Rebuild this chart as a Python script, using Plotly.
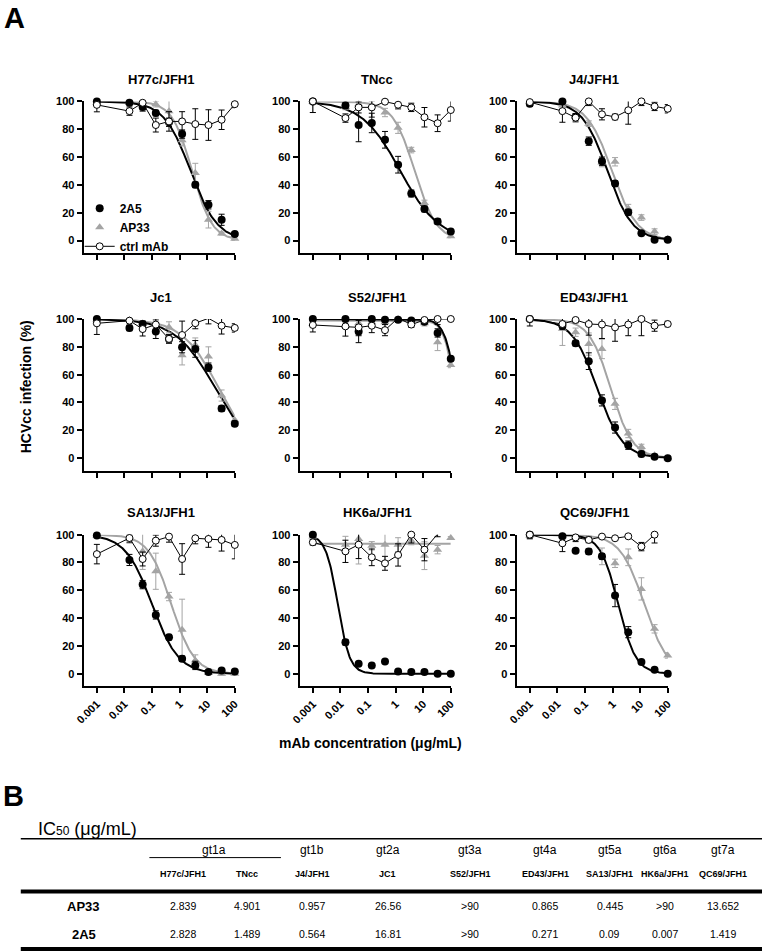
import numpy as np
import plotly.graph_objects as go

W, H = 767, 952
FONT = "Arial, Liberation Sans, sans-serif"
GREY = "#a4a4a4"

# antibody concentrations (ug/mL), 3-fold dilutions plus the 0.001 point
conc = [0.001, 0.0152, 0.0457, 0.137, 0.412, 1.23, 3.70, 11.1, 33.3, 100]

strains = ["H77c/JFH1", "TNcc", "J4/JFH1", "Jc1", "S52/JFH1", "ED43/JFH1",
           "SA13/JFH1", "HK6a/JFH1", "QC69/JFH1"]

# % infection (mean and error)
h77c_2a5 = [100, 99, 96, 91.6, 85, 76.5, 40, 25.7, 14.9, 4.6]
h77c_2a5_sd = [1, 1, 2, 2, 3, 3, 2, 3, 4, 1.5]
h77c_ap33 = [99, 99, 98, 98, 93, 72, 48.5, 15, 5, 1.2]
h77c_ap33_sd = [2, 2, 2, 2, 8, 4, 7, 6, 1, 1]
h77c_ctrl = [97.5, 93, 99, 83, 85.6, 85.6, 83.7, 83, 86.8, 98]
h77c_ctrl_sd = [5, 3, 6, 5, 7, 7, 11, 11, 7, 2.5]

tncc_2a5 = [100, 97, 83, 84.5, 72.4, 54.5, 33.8, 22.6, 13.6, 6.4]
tncc_2a5_sd = [1, 2, 12, 7, 6, 6, 2.5, 2, 2, 1.5]
tncc_ap33 = [100, 96, 98, 97, 92, 81, 65, 27, 13.6, 3]
tncc_ap33_sd = [8, 2, 3, 3, 3, 4, 2, 2, 1, 1]
tncc_ctrl = [100, 88, 95.7, 95.7, 99.8, 97.6, 95.7, 88.6, 84.3, 93.8]
tncc_ctrl_sd = [8, 3, 4, 7, 1, 3, 3, 7, 6, 8]

j4_2a5 = [98.3, 100, 88.8, 71.4, 57, 41, 20.3, 5.3, 0.5, 0.5]
j4_2a5_sd = [2, 1, 2, 3, 3, 2, 2, 1, 1, 1]
j4_ap33 = [99.5, 97, 89, 84, 56, 56.6, 23, 16.5, 6.4, 1.2]
j4_ap33_sd = [2, 3, 2, 2, 3, 3, 3, 2, 2, 1]
j4_ctrl = [99.5, 93, 88.3, 100, 90.7, 88.8, 93.6, 100, 96.4, 94.7]
j4_ctrl_sd = [2, 8, 3, 3, 4, 2, 10, 3, 3, 3]

jc1_2a5 = [100, 93.6, 96.4, 91, 85.7, 79.7, 78.5, 65.4, 35.6, 24.8]
jc1_2a5_sd = [1, 2, 2, 5, 3, 4, 6, 3, 2, 2]
jc1_ap33 = [99.3, 99.3, 96.9, 96.9, 94, 74, 81.4, 73, 45, 27.2]
jc1_ap33_sd = [1, 1, 2, 2, 4, 7, 5, 7, 4, 2]
jc1_ctrl = [96.9, 98.8, 92.8, 96, 85.7, 88.5, 97, 100.5, 95.2, 93.6]
jc1_ctrl_sd = [8, 1, 5, 4, 3, 10, 4, 4, 6, 3]

s52_2a5 = [100, 100, 91, 100, 99.5, 99.5, 99, 98, 90, 71.4]
s52_2a5_sd = [1, 1, 8, 1, 1, 1, 1, 1, 3, 1]
s52_ap33 = [96.4, 95.2, 97, 97.6, 97.6, 100, 98, 97, 83.3, 67]
s52_ap33_sd = [2, 2, 8, 2, 6, 2, 2, 2, 6, 2]
s52_ctrl = [95.7, 94.7, 94, 95.2, 92, 100.7, 96, 99.3, 100, 100]
s52_ctrl_sd = [5, 7, 6, 5, 4, 3, 2, 1, 4, 1]

ed43_2a5 = [100, 95.2, 82.6, 69.7, 41.5, 22, 9.3, 3, 1, 0]
ed43_2a5_sd = [1, 2, 2, 6, 4, 4, 3, 2, 1, 1]
ed43_ap33 = [100, 93, 90.5, 82, 78.5, 39, 17.7, 8, 2, 0]
ed43_ap33_sd = [1, 12, 3, 8, 7, 4, 3, 2, 1, 1]
ed43_ctrl = [100, 96.4, 99.3, 96.4, 96, 94, 96, 100, 95.2, 96.4]
ed43_ctrl_sd = [5, 4, 2, 8, 10, 10, 8, 12, 4, 2]

sa13_2a5 = [99.3, 81.8, 64.1, 42.3, 26.3, 10.8, 6, 1.2, 2.4, 1.7]
sa13_2a5_sd = [1, 4, 3, 3, 2, 2, 3, 1, 1, 1]
sa13_ap33 = [99.3, 96.9, 88, 73.7, 55.5, 31.6, 9.6, 0.5, 0, 0]
sa13_ap33_sd = [1, 3, 13, 13, 3, 22, 4, 1, 1, 1]
sa13_ctrl = [86, 97.6, 82.5, 95.7, 98.6, 82.5, 97.4, 96.9, 96.2, 92.6]
sa13_ctrl_sd = [7, 3, 5, 4, 4, 11, 4, 6, 8, 10]

hk6a_2a5 = [100, 22.7, 7.2, 6, 8.9, 1.7, 1.2, 1.2, 0, 0]
hk6a_2a5_sd = [1, 2, 1, 1, 1, 1, 1, 1, 1, 1]
hk6a_ap33 = [98.6, 92.8, 96.9, 92, 92.8, 92.8, 95.7, 84.9, 89.2, 97.6]
hk6a_ap33_sd = [2, 6, 18, 3, 12, 5, 3, 10, 3, 1]
hk6a_ctrl = [94.5, 88, 92.8, 83.7, 79.4, 85.4, 100, 89.2, 100.5, None]
hk6a_ctrl_sd = [2, 8, 10, 6, 5, 8, 6, 8, 2, 0]

qc69_2a5 = [100, 98.8, 88.5, 87.8, 84.4, 56.2, 29.9, 8.4, 2.9, 0]
qc69_2a5_sd = [1, 1, 1, 2, 2, 8, 4, 1, 1, 1]
qc69_ap33 = [99.3, 98.8, 98, 96.9, 84.4, 79.4, 83.7, 61, 32.3, 13.2]
qc69_ap33_sd = [2, 2, 2, 2, 6, 3, 6, 8, 3, 2]
qc69_ctrl = [100, 93.8, 98, 96.2, 98.6, 97.4, 98.8, 91.4, 100, None]
qc69_ctrl_sd = [3, 6, 3, 2, 1, 1, 1, 3, 6, 0]

# four-parameter logistic fits (top, bottom, IC50, Hill slope)
fit_2a5_top = [100, 100, 100, 100, 100, 100, 100, 100, 100]
fit_2a5_bottom = [0, 0, 0, 0, 0, 0, 0, 0, 0]
fit_2a5_ic50 = [2.5, 1.489, 0.65, 20, 160, 0.28, 0.1, 0.008, 1.6]
fit_2a5_hill = [0.9, 0.62, 0.95, 0.6, 2.0, 0.95, 0.9, 2.0, 1.35]
fit_ap33_top = [100, 100, 100, 100, 99, 100, 100, 93.5, 100]
fit_ap33_bottom = [0, 0, 0, 0, 0, 0, 0, 93.5, 0]
fit_ap33_ic50 = [2.839, 4.901, 0.957, 26.56, 140, 0.865, 0.5, 1.0, 14]
fit_ap33_hill = [1.2, 1.1, 0.95, 0.65, 2.2, 1.1, 1.05, 1.0, 1.0]

# panel B table
table_strains = ["H77c/JFH1", "TNcc", "J4/JFH1", "JC1", "S52/JFH1", "ED43/JFH1",
                 "SA13/JFH1", "HK6a/JFH1", "QC69/JFH1"]
genotypes = ["gt1a", "gt1b", "gt2a", "gt3a", "gt4a", "gt5a", "gt6a", "gt7a"]
antibodies = ["AP33", "2A5"]
ic50_ap33 = ["2.839", "4.901", "0.957", "26.56", ">90", "0.865", "0.445", ">90", "13.652"]
ic50_2a5 = ["2.828", "1.489", "0.564", "16.81", ">90", "0.271", "0.09", "0.007", "1.419"]

tick_vals = [0.001, 0.01, 0.1, 1, 10, 100]
tick_text = ["0.001", "0.01", "0.1", "1", "10", "100"]

panels = [
    (h77c_2a5, h77c_2a5_sd, h77c_ap33, h77c_ap33_sd, h77c_ctrl, h77c_ctrl_sd),
    (tncc_2a5, tncc_2a5_sd, tncc_ap33, tncc_ap33_sd, tncc_ctrl, tncc_ctrl_sd),
    (j4_2a5, j4_2a5_sd, j4_ap33, j4_ap33_sd, j4_ctrl, j4_ctrl_sd),
    (jc1_2a5, jc1_2a5_sd, jc1_ap33, jc1_ap33_sd, jc1_ctrl, jc1_ctrl_sd),
    (s52_2a5, s52_2a5_sd, s52_ap33, s52_ap33_sd, s52_ctrl, s52_ctrl_sd),
    (ed43_2a5, ed43_2a5_sd, ed43_ap33, ed43_ap33_sd, ed43_ctrl, ed43_ctrl_sd),
    (sa13_2a5, sa13_2a5_sd, sa13_ap33, sa13_ap33_sd, sa13_ctrl, sa13_ctrl_sd),
    (hk6a_2a5, hk6a_2a5_sd, hk6a_ap33, hk6a_ap33_sd, hk6a_ctrl, hk6a_ctrl_sd),
    (qc69_2a5, qc69_2a5_sd, qc69_ap33, qc69_ap33_sd, qc69_ctrl, qc69_ctrl_sd),
]


def logistic(x, top, bottom, ic50, hill):
    return bottom + (top - bottom) / (1 + (x / ic50) ** hill)


def px(x):
    return x / W


def py(y):
    return 1 - y / H


def label(text, x, y, size, xanchor="center", **kw):
    # paper-anchored text placed by pixel position
    return dict(text=text, x=px(x), y=py(y), xref="paper", yref="paper", showarrow=False,
                xanchor=xanchor, yanchor="middle", font=dict(family=FONT, size=size, color="black"), **kw)


# pixel boxes of the 3x3 grid
col_px = [(76, 230), (296, 450), (517, 671)]
row_px = [(96, 248.6), (315, 467.6), (532, 684.6)]
xfit = np.logspace(-3, 2, 200)

fig = go.Figure()
annotations = []
layout_axes = {}

for i, name in enumerate(strains):
    r, c = divmod(i, 3)
    n = i + 1
    xa = "x" if n == 1 else f"x{n}"
    ya = "y" if n == 1 else f"y{n}"
    y2a5, sd2a5, yap, sdap, yctrl, sdctrl = panels[i]

    fig.add_trace(go.Scatter(
        x=xfit, y=logistic(xfit, fit_ap33_top[i], fit_ap33_bottom[i], fit_ap33_ic50[i], fit_ap33_hill[i]),
        mode="lines", line=dict(color=GREY, width=2), xaxis=xa, yaxis=ya,
        showlegend=False, hoverinfo="skip", cliponaxis=False))
    fig.add_trace(go.Scatter(
        x=xfit, y=logistic(xfit, fit_2a5_top[i], fit_2a5_bottom[i], fit_2a5_ic50[i], fit_2a5_hill[i]),
        mode="lines", line=dict(color="black", width=2), xaxis=xa, yaxis=ya,
        showlegend=False, hoverinfo="skip", cliponaxis=False))

    fig.add_trace(go.Scatter(
        x=conc, y=yap, mode="markers", name="AP33", legendrank=2, showlegend=(i == 0),
        marker=dict(symbol="triangle-up", size=8, color=GREY),
        error_y=dict(type="data", array=sdap, color=GREY, thickness=1, width=3),
        xaxis=xa, yaxis=ya, cliponaxis=False))
    fig.add_trace(go.Scatter(
        x=conc, y=y2a5, mode="markers", name="2A5", legendrank=1, showlegend=(i == 0),
        marker=dict(symbol="circle", size=8, color="black"),
        error_y=dict(type="data", array=sd2a5, color="black", thickness=1, width=3),
        xaxis=xa, yaxis=ya, cliponaxis=False))
    fig.add_trace(go.Scatter(
        x=conc, y=yctrl, mode="lines+markers", name="ctrl mAb", legendrank=3, showlegend=(i == 0),
        line=dict(color="black", width=1),
        marker=dict(symbol="circle", size=7, color="white", line=dict(color="black", width=1)),
        error_y=dict(type="data", array=sdctrl, color="black", thickness=1, width=3),
        xaxis=xa, yaxis=ya, cliponaxis=False))

    x0, x1 = col_px[c]
    y0, y1 = row_px[r]
    axis_style = dict(showline=True, linewidth=2, linecolor="black", ticks="outside",
                      ticklen=5, tickwidth=2, tickcolor="black", showgrid=False, zeroline=False,
                      tickfont=dict(family=FONT, size=11, color="black", weight="bold"))
    layout_axes["xaxis" if n == 1 else f"xaxis{n}"] = dict(
        type="log", range=[-3.48, 2.0], domain=[px(x0), px(x1)], anchor=ya,
        tickvals=tick_vals, ticktext=tick_text, showticklabels=(r == 2), tickangle=-45,
        **axis_style)
    layout_axes["yaxis" if n == 1 else f"yaxis{n}"] = dict(
        range=[-9, 100], domain=[py(y1), py(y0)], anchor=xa,
        tickvals=[0, 20, 40, 60, 80, 100], **axis_style)

    annotations.append(label(f"<b>{name}</b>", (x0 + x1) / 2 + 2, y0 - 22, 13))

# panel letters and axis titles
annotations += [
    label("<b>A</b>", -7, 12, 29, xanchor="left"),
    label("<b>B</b>", -8, 795, 29, xanchor="left"),
    label("<b>HCVcc infection (%)</b>", 17, 383, 14, textangle=-90),
    label("<b>mAb concentration (μg/mL)</b>", 368, 742, 14),
    label("IC<span style='font-size:12px'>50</span> (μg/mL)", 27, 828, 18, xanchor="left"),
]

# table text
col_x = [177, 242, 309, 386, 470, 546, 612, 668, 727]
geno_x = [209] + col_x[2:]
for g, gx in zip(genotypes, geno_x):
    annotations.append(label(g, gx, 849, 12))
for s, sx in zip(table_strains, col_x):
    annotations.append(label(f"<b>{s}</b>", sx, 874, 9))
for ab, vals, ry in zip(antibodies, [ic50_ap33, ic50_2a5], [906, 934]):
    annotations.append(label(f"<b>{ab}</b>", 76, ry, 13))
    for v, vx in zip(vals, col_x):
        annotations.append(label(v, vx, ry, 10.5))


def hline(x0, x1, y, width):
    return dict(type="line", x0=px(x0), x1=px(x1), y0=py(y), y1=py(y), xref="paper", yref="paper",
                line=dict(color="black", width=width))


shapes = [hline(12, 767, 838, 1.5), hline(143, 277, 857, 1),
          hline(12, 767, 891, 4), hline(12, 767, 949, 4)]

fig.update_layout(
    width=W, height=H,
    margin=dict(l=0, r=0, t=0, b=0, pad=0),
    paper_bgcolor="white", plot_bgcolor="white",
    font=dict(family=FONT, color="black"),
    legend=dict(x=px(72), y=py(189), xanchor="left", yanchor="top", itemwidth=30,
                bgcolor="rgba(0,0,0,0)", font=dict(family=FONT, size=12, color="black", weight="bold")),
    annotations=annotations,
    shapes=shapes,
    **layout_axes,
)

fig.write_html("out.html", config={"displayModeBar": False},
               post_script="document.body.style.margin='0px';")
